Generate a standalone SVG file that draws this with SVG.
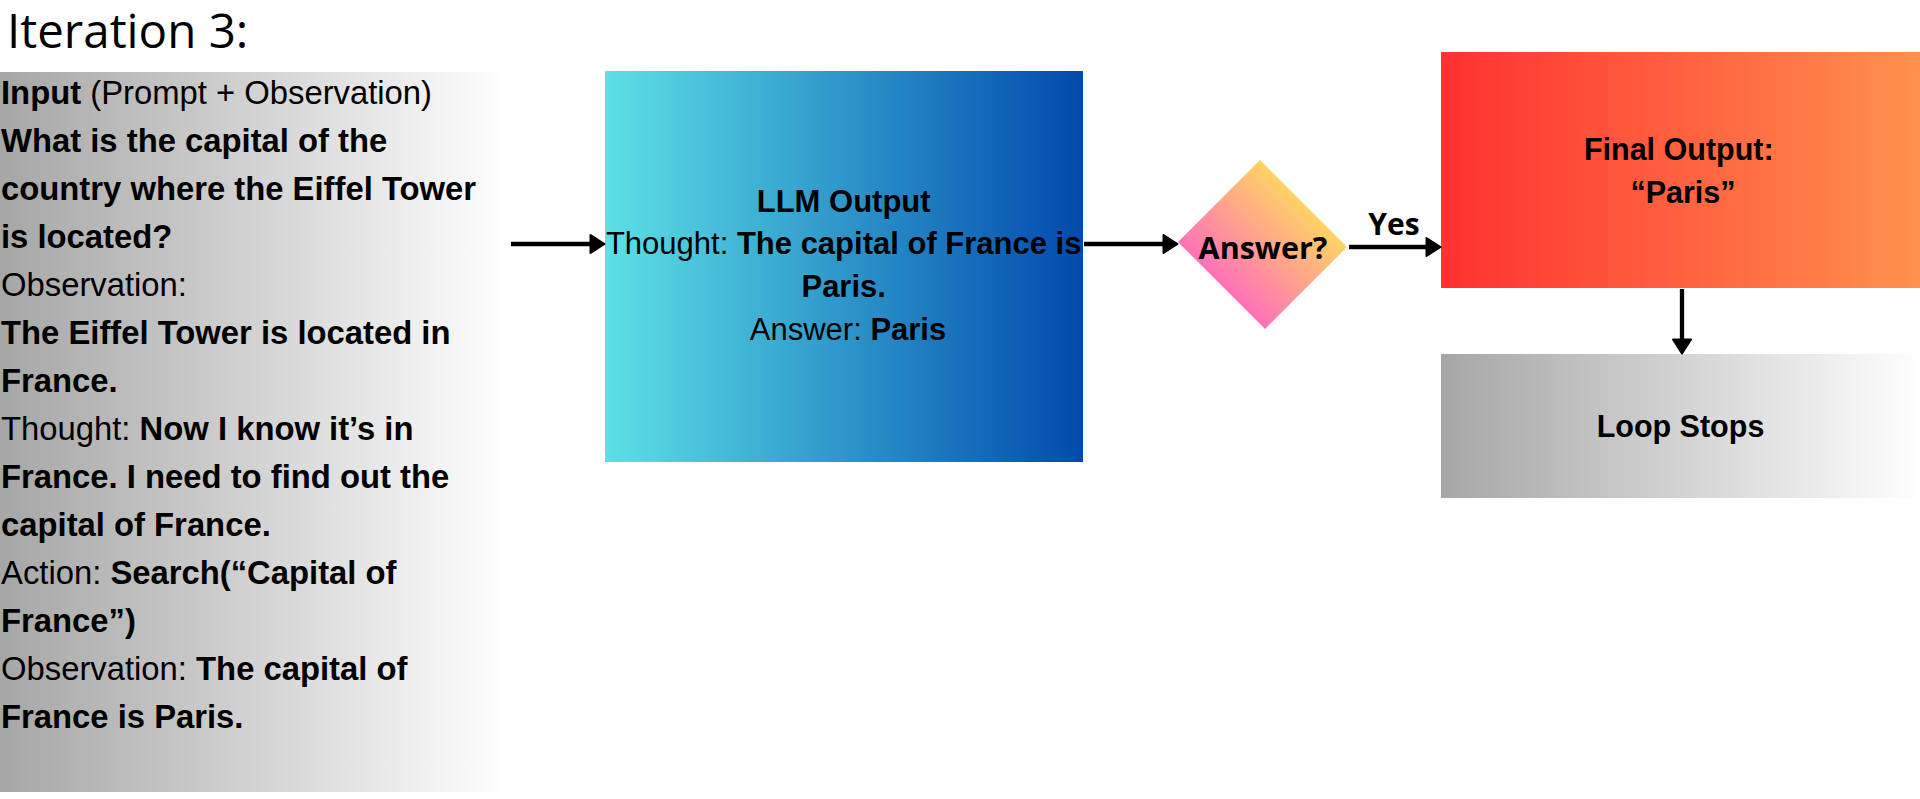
<svg xmlns="http://www.w3.org/2000/svg" width="1920" height="799" viewBox="0 0 1920 799">
  <style>
    .body { font-family: "Liberation Sans", Arial, sans-serif; fill: #000; }
    .b { font-weight: bold; }
    .canva { font-family: "Open Sans", "Noto Sans", sans-serif; fill: #000; }
    .conn { stroke: #000; stroke-width: 4.3; fill: none; marker-end: url(#arrow); }
  </style>
  <defs>
    <linearGradient id="gGrey" x1="0" y1="0" x2="1" y2="0">
      <stop offset="0" stop-color="#a6a6a6"/>
      <stop offset="1" stop-color="#ffffff"/>
    </linearGradient>
    <linearGradient id="gBlue" x1="0" y1="0" x2="1" y2="0">
      <stop offset="0" stop-color="#5ce1e6"/>
      <stop offset="1" stop-color="#004aad"/>
    </linearGradient>
    <linearGradient id="gRed" x1="0" y1="0" x2="1" y2="0">
      <stop offset="0" stop-color="#ff3131"/>
      <stop offset="1" stop-color="#ff914d"/>
    </linearGradient>
    <linearGradient id="gDiamond" x1="0.2" y1="0.8" x2="0.8" y2="0.2">
      <stop offset="0" stop-color="#ff66c4"/>
      <stop offset="1" stop-color="#ffde59"/>
    </linearGradient>
    <marker id="arrow" markerUnits="userSpaceOnUse" viewBox="0 0 17 21" markerWidth="17" markerHeight="21" refX="6" refY="10.5" orient="auto">
      <path d="M1.5,1.5 L15.5,10.5 L1.5,19.5 Z" fill="#000" stroke="#000" stroke-width="2" stroke-linejoin="round"/>
    </marker>
  </defs>

  <rect width="1920" height="799" fill="#ffffff"/>

  <g id="title">
    <text class="canva" x="7" y="48" font-size="47.5">Iteration 3:</text>
  </g>

  <g id="input">
    <rect x="0" y="72" width="508" height="720" fill="url(#gGrey)"/>
    <text class="body" font-size="32.8">
      <tspan x="1" y="104"><tspan class="b">Input</tspan> (Prompt + Observation)</tspan>
      <tspan x="1" y="152" class="b">What is the capital of the</tspan>
      <tspan x="1" y="200" class="b">country where the Eiffel Tower</tspan>
      <tspan x="1" y="248" class="b">is located?</tspan>
      <tspan x="1" y="296">Observation:</tspan>
      <tspan x="1" y="344" class="b">The Eiffel Tower is located in</tspan>
      <tspan x="1" y="392" class="b">France.</tspan>
      <tspan x="1" y="440">Thought: <tspan class="b">Now I know it’s in</tspan></tspan>
      <tspan x="1" y="488" class="b">France. I need to find out the</tspan>
      <tspan x="1" y="536" class="b">capital of France.</tspan>
      <tspan x="1" y="584">Action: <tspan class="b">Search(“Capital of</tspan></tspan>
      <tspan x="1" y="632" class="b">France”)</tspan>
      <tspan x="1" y="680">Observation: <tspan class="b">The capital of</tspan></tspan>
      <tspan x="1" y="728" class="b">France is Paris.</tspan>
    </text>
  </g>

  <g id="llm-output">
    <rect x="605" y="71" width="478" height="391" fill="url(#gBlue)"/>
    <text class="body" font-size="31" text-anchor="middle">
      <tspan x="848" y="211.5" class="b">LLM Output</tspan>
      <tspan x="848" y="254">Thought: <tspan class="b">The capital of France is</tspan></tspan>
      <tspan x="848" y="297" class="b">Paris.</tspan>
      <tspan x="848" y="340">Answer: <tspan class="b">Paris</tspan></tspan>
    </text>
  </g>

  <g id="decision">
    <polygon points="1260,160 1347,247 1265,329 1178,242" fill="url(#gDiamond)"/>
    <text class="canva b" x="1263" y="259" font-size="30.5" text-anchor="middle">Answer?</text>
  </g>

  <g id="final-output">
    <rect x="1441" y="52" width="479" height="236" fill="url(#gRed)"/>
    <text class="body b" font-size="30.5" text-anchor="middle">
      <tspan x="1683" y="160">Final Output:</tspan>
      <tspan x="1683" y="203">“Paris”</tspan>
    </text>
  </g>

  <g id="loop-stops">
    <rect x="1441" y="354" width="479" height="144" fill="url(#gGrey)"/>
    <text class="body b" x="1680.5" y="437" font-size="30.5" text-anchor="middle">Loop Stops</text>
  </g>

  <g id="connectors">
    <line class="conn" x1="511" y1="244" x2="595" y2="244"/>
    <line class="conn" x1="1084" y1="244" x2="1168" y2="244"/>
    <line class="conn" x1="1349" y1="247" x2="1431" y2="247"/>
    <text class="canva b" x="1394" y="235" font-size="30" text-anchor="middle">Yes</text>
    <line class="conn" x1="1682" y1="289" x2="1682" y2="344"/>
  </g>
</svg>
